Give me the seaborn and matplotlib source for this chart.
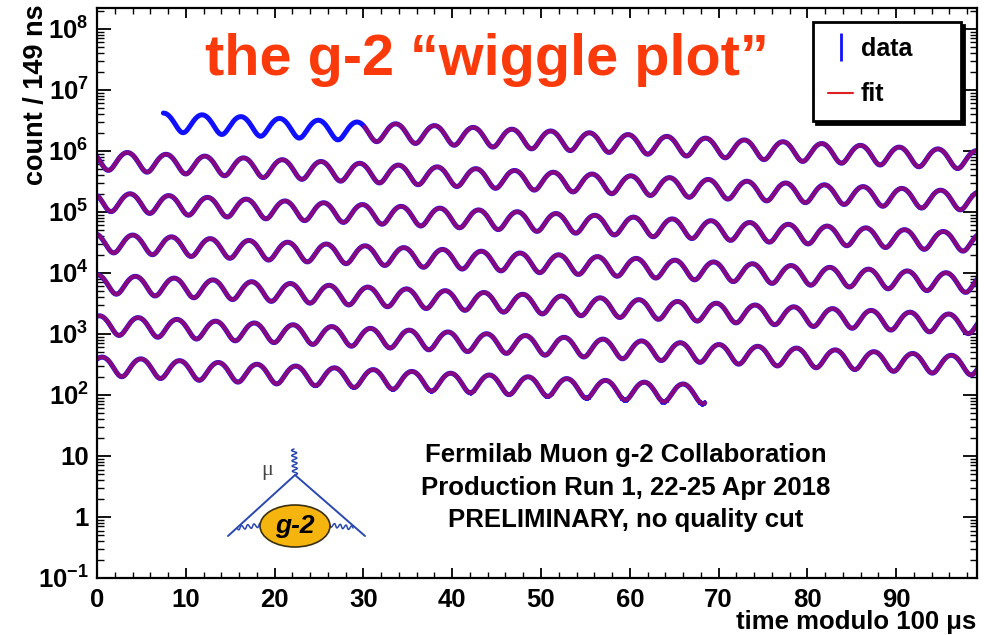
import numpy as np
import pandas as pd
import matplotlib
matplotlib.use('Agg')
import matplotlib.pyplot as plt
import seaborn as sns
from matplotlib.lines import Line2D
from matplotlib.patches import Ellipse
from matplotlib.ticker import FixedLocator, LogLocator, NullFormatter, MultipleLocator

# five-parameter wiggle fit
n0 = 3.5e6           # counts per bin at t = 0
lifetime = 64.4      # dilated muon lifetime, us
asymmetry = 0.34
period = 4.361       # g-2 precession period, us
trough_time = 9.68   # first minimum, us
bin_width = 0.149    # us
data_start = 7.4
data_end = 668.5
fit_start = 30.0
wrap = 100.0

y_ticks = [1e-1, 1, 10, 1e2, 1e3, 1e4, 1e5, 1e6, 1e7, 1e8]
y_tick_labels = [r'$10^{-1}$', '1', '10', r'$10^{2}$', r'$10^{3}$', r'$10^{4}$',
                 r'$10^{5}$', r'$10^{6}$', r'$10^{7}$', r'$10^{8}$']
x_ticks = [0, 10, 20, 30, 40, 50, 60, 70, 80, 90]
info_lines = ['Fermilab Muon g-2 Collaboration',
              'Production Run 1, 22-25 Apr 2018',
              'PRELIMINARY, no quality cut']

sns.set_style('ticks')
plt.rcParams['font.family'] = ['Liberation Sans', 'DejaVu Sans']
plt.rcParams['font.weight'] = 'bold'
plt.rcParams['text.color'] = 'black'
plt.rcParams['xtick.color'] = 'black'
plt.rcParams['ytick.color'] = 'black'
plt.rcParams['axes.labelcolor'] = 'black'
plt.rcParams['mathtext.fontset'] = 'custom'
plt.rcParams['mathtext.rm'] = 'Liberation Sans:bold'
plt.rcParams['mathtext.it'] = 'Liberation Sans:bold:italic'
plt.rcParams['mathtext.bf'] = 'Liberation Sans:bold'


def wiggle(t):
    return n0 * np.exp(-t / lifetime) * (1 - asymmetry * np.cos(2 * np.pi * (t - trough_time) / period))


t = np.arange(data_start, data_end, bin_width) + bin_width / 2
df = pd.DataFrame({'t': t, 'count': wiggle(t)})
df['row'] = (df['t'] // wrap).astype(int)
df['t_mod'] = df['t'] % wrap
df['err'] = np.sqrt(df['count'])
fit_df = df[df['t'] >= fit_start]

fig = plt.figure(figsize=(9.86, 6.35), dpi=100)
ax = fig.add_axes([97 / 986, 1 - 578 / 635, 880 / 986, 570 / 635])

sns.lineplot(data=df, x='t_mod', y='count', units='row', estimator=None,
             color='#1010ff', lw=3.6, ax=ax, legend=False)
ax.vlines(df['t_mod'], df['count'] - df['err'], df['count'] + df['err'],
          color='#1010ff', lw=1.2)
sns.lineplot(data=fit_df, x='t_mod', y='count', units='row', estimator=None,
             color='#ff0000', lw=3.0, alpha=0.5, ax=ax, legend=False)

ax.set_yscale('log')
ax.set_xlim(0, 99.1)
ax.set_ylim(0.1, 2.2e8)
ax.set_xlabel('')
ax.set_ylabel('')

ax.yaxis.set_major_locator(FixedLocator(y_ticks))
ax.set_yticklabels(y_tick_labels)
ax.yaxis.set_minor_locator(LogLocator(base=10, subs=np.arange(2, 10), numticks=30))
ax.yaxis.set_minor_formatter(NullFormatter())
ax.set_xticks(x_ticks)
ax.xaxis.set_minor_locator(MultipleLocator(2))

ax.tick_params(which='both', direction='in', top=True, right=True, labelsize=18.5)
ax.tick_params(axis='y', which='major', length=10, width=1.3, pad=6)
ax.tick_params(axis='y', which='minor', length=5, width=1)
ax.tick_params(axis='x', which='major', length=7, width=1.3, pad=7)
ax.tick_params(axis='x', which='minor', length=4, width=1)
for s in ax.spines.values():
    s.set_linewidth(1.6)
    s.set_color('black')

handles = [Line2D([], [], color='#1010ff', marker='|', ls='none', markersize=20, mew=2),
           Line2D([], [], color='#e02020', lw=1.5)]
leg = ax.legend(handles, ['data', 'fit'], loc='upper left',
                bbox_to_anchor=(813 / 986, 1 - 115 / 635, 148 / 986, 93 / 635),
                bbox_transform=fig.transFigure, mode='expand', borderaxespad=0,
                fontsize=18, frameon=True, fancybox=False, borderpad=0.6,
                labelspacing=0.85, handlelength=1.0, handletextpad=0.3,
                shadow={'facecolor': 'black', 'edgecolor': 'black', 'alpha': 1})
leg.get_frame().set_edgecolor('black')
leg.get_frame().set_linewidth(2)

fig.text(205 / 986, 1 - 75 / 635, 'the g-2 \u201cwiggle plot\u201d', color='#fb3a0c',
         fontsize=41.5, fontweight='bold', va='baseline', ha='left')

fig.text(36 / 986, 1 - 4 / 635, 'count / 149 ns', rotation=90, ha='center', va='top',
         fontsize=19.5, fontweight='bold')
fig.text(976 / 986, 1 - 622 / 635, 'time modulo 100 \u03bcs', ha='right', va='center',
         fontsize=18.5, fontweight='bold')

for i, line in enumerate(info_lines):
    fig.text(626 / 986, 1 - (455 + 32.5 * i) / 635, line, ha='center', va='center',
             fontsize=18.5, fontweight='bold')


# g-2 logo (Feynman vertex)
def fx(px):
    return px / 986


def fy(py):
    return 1 - py / 635


def photon(x0, y0, x1, y1, n=5, amp=2.5):
    s = np.linspace(0, 1, 120)
    dx, dy = x1 - x0, y1 - y0
    length = np.hypot(dx, dy)
    nx, ny = -dy / length, dx / length
    w = amp * np.sin(2 * np.pi * n * s)
    xs = x0 + dx * s + nx * w
    ys = y0 + dy * s + ny * w
    fig.add_artist(Line2D(fx(xs), fy(ys), color='#2a48b0', lw=1.1, transform=fig.transFigure))


blue = '#2a48b0'
fig.add_artist(Line2D([fx(228), fx(295), fx(365)], [fy(536), fy(475), fy(536)],
                      color=blue, lw=1.4, transform=fig.transFigure))
photon(294, 449, 295, 475, n=5)
photon(237, 528, 262, 525, n=4, amp=2)
photon(330, 525, 353, 528, n=4, amp=2)
fig.add_artist(Ellipse((fx(295), fy(526)), 70 / 986, 42 / 635, facecolor='#f6b40e',
                       edgecolor='#3a3010', lw=1.2, transform=fig.transFigure, zorder=5))
fig.text(fx(295), fy(526), 'g-2', ha='center', va='center', fontsize=19,
         fontweight='bold', style='italic', zorder=6)
fig.text(fx(267), fy(471), '\u03bc', ha='center', va='center', fontsize=16,
         fontweight='normal', color='#444444', family=['Liberation Serif', 'DejaVu Serif'])

plt.savefig('out.png', dpi=100)
plt.close()
